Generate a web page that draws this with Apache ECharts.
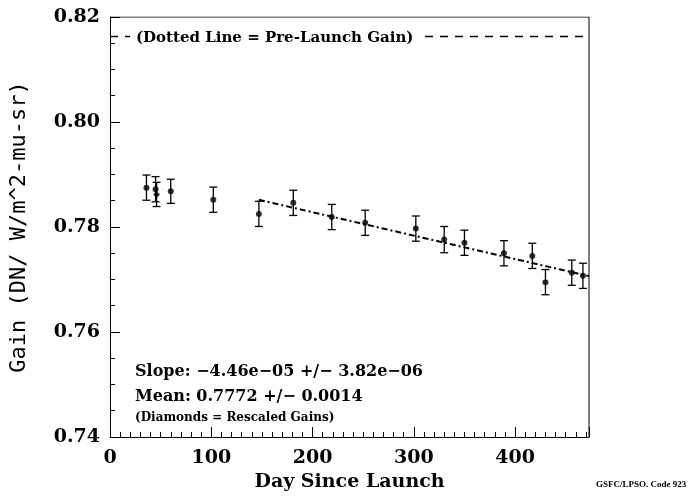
<!DOCTYPE html>
<html>
<head>
<meta charset="utf-8">
<script src="https://cdn.jsdelivr.net/npm/echarts@6/dist/echarts.min.js"></script>
<style>
html,body{margin:0;padding:0;background:#fff;}
#c{width:692px;height:499px;}
</style>
</head>
<body>
<div id="c"></div>
<script>
// ---- data ----
const days   = [36, 45, 60, 102, 147, 181, 219, 252, 302, 330, 350, 389, 417, 430, 456, 467];
const gains  = [0.7875, 0.7872, 0.7868, 0.7852, 0.7825, 0.7846, 0.7819, 0.7808, 0.7797, 0.7776, 0.7770, 0.7750, 0.7745, 0.7695, 0.7713, 0.7707];
const errs   = [0.0024, 0.0024, 0.0023, 0.0024, 0.0024, 0.0024, 0.0024, 0.0024, 0.0024, 0.0025, 0.0024, 0.0024, 0.0024, 0.0024, 0.0024, 0.0024];
const diamondDays  = [46];
const diamondGains = [0.7862];
const diamondErrs  = [0.0023];
const fitDays  = [147, 473];
const fitGains = [0.78518, 0.77064];
const preLaunchDays = [0, 473];
const preLaunchGain = [0.8163, 0.8163];
const xTicks = [0, 100, 200, 300, 400];
const yTicks = [0.74, 0.76, 0.78, 0.80, 0.82];
const notes = ['Slope: \u22124.46e\u221205 +/\u2212 3.82e\u221206', 'Mean: 0.7772 +/\u2212 0.0014', '(Diamonds = Rescaled Gains)'];

const chart = echarts.init(document.getElementById('c'));
const FONT = '"DejaVu Serif", serif';
const MONO = '"DejaVu Sans Mono", monospace';

const allDays = days.concat(diamondDays);
const allGains = gains.concat(diamondGains);
const allErrs = errs.concat(diamondErrs);
const errData = allDays.map((d, i) => [d, allGains[i] - allErrs[i], allGains[i] + allErrs[i]]);

chart.setOption({
  animation: false,
  backgroundColor: '#fff',
  grid: {left: 110, right: 103, top: 17, bottom: 62, show: false},
  xAxis: {
    type: 'value', min: 0, max: 473, interval: 100,
    name: 'Day Since Launch', nameLocation: 'middle', nameGap: 36,
    nameTextStyle: {fontFamily: FONT, fontWeight: 'bold', fontSize: 19, color: '#000'},
    axisLine: {show: true, onZero: false, lineStyle: {color: '#000', width: 1}},
    axisTick: {show: true, inside: true, length: 10, lineStyle: {color: '#000'}},
    minorTick: {show: true, splitNumber: 10, length: 5, lineStyle: {color: '#000'}},
    axisLabel: {fontFamily: FONT, fontWeight: 'bold', fontSize: 19, color: '#000', margin: 12,
      formatter: v => xTicks.includes(v) ? String(v) : ''},
    splitLine: {show: false}
  },
  yAxis: {
    type: 'value', min: 0.74, max: 0.82, interval: 0.02,
    name: 'Gain (DN/ W/m^2-mu-sr)', nameLocation: 'middle', nameGap: 80, nameRotate: 90,
    nameTextStyle: {fontFamily: MONO, fontSize: 22, color: '#000'},
    axisLine: {show: true, onZero: false, lineStyle: {color: '#000', width: 1}},
    axisTick: {show: true, inside: true, length: 10, lineStyle: {color: '#000'}},
    minorTick: {show: true, splitNumber: 4, length: 5, lineStyle: {color: '#000'}},
    axisLabel: {fontFamily: FONT, fontWeight: 'bold', fontSize: 19, color: '#000', margin: 10,
      formatter: v => v.toFixed(2)},
    splitLine: {show: false}
  },
  series: [
    {
      type: 'custom',
      renderItem: function (params, api) {
        const x = api.value(0);
        const lo = api.coord([x, api.value(1)]);
        const hi = api.coord([x, api.value(2)]);
        const w = 4;
        const st = {stroke: '#000', lineWidth: 1.3};
        return {type: 'group', children: [
          {type: 'line', shape: {x1: lo[0], y1: lo[1], x2: hi[0], y2: hi[1]}, style: st},
          {type: 'line', shape: {x1: lo[0]-w, y1: lo[1], x2: lo[0]+w, y2: lo[1]}, style: st},
          {type: 'line', shape: {x1: hi[0]-w, y1: hi[1], x2: hi[0]+w, y2: hi[1]}, style: st}
        ]};
      },
      data: errData, z: 2
    },
    {
      type: 'scatter', symbol: 'circle', symbolSize: 6,
      itemStyle: {color: '#000'},
      data: days.map((d, i) => [d, gains[i]]), z: 3
    },
    {
      type: 'scatter', symbol: 'diamond', symbolSize: 7,
      itemStyle: {color: '#000'},
      data: diamondDays.map((d, i) => [d, diamondGains[i]]), z: 3
    },
    {
      type: 'line', symbol: 'none',
      lineStyle: {color: '#000', width: 2, type: [6, 3, 2, 3]},
      data: fitDays.map((d, i) => [d, fitGains[i]]), z: 1
    },
    {
      type: 'line', symbol: 'none',
      lineStyle: {color: '#000', width: 1.5, type: [8, 7]},
      data: preLaunchDays.map((d, i) => [d, preLaunchGain[i]]), z: 1
    },
    {
      type: 'line', symbol: 'none', silent: true,
      lineStyle: {color: '#000', width: 1},
      data: [[0, 0.82], [473, 0.82], [473, 0.74]], z: 4
    }
  ],
  graphic: [
    {type: 'rect', left: 130, top: 28, shape: {width: 292, height: 24}, style: {fill: '#fff'}, z: 50},
    {type: 'text', left: 136, top: 31, style: {text: '(Dotted Line = Pre-Launch Gain)', font: 'bold 15px ' + FONT, fill: '#000'}, z: 51},
    {type: 'text', left: 135, top: 364, style: {text: notes[0], font: 'bold 16px ' + FONT, fill: '#000'}, z: 51},
    {type: 'text', left: 135, top: 389, style: {text: notes[1], font: 'bold 16px ' + FONT, fill: '#000'}, z: 51},
    {type: 'text', left: 135, top: 412, style: {text: notes[2], font: 'bold 12px ' + FONT, fill: '#000'}, z: 51},
    {type: 'text', left: 596, top: 480, style: {text: 'GSFC/LPSO. Code 923', font: 'bold 9px "Liberation Serif", serif', fill: '#000'}, z: 51}
  ]
});
</script>
</body>
</html>
